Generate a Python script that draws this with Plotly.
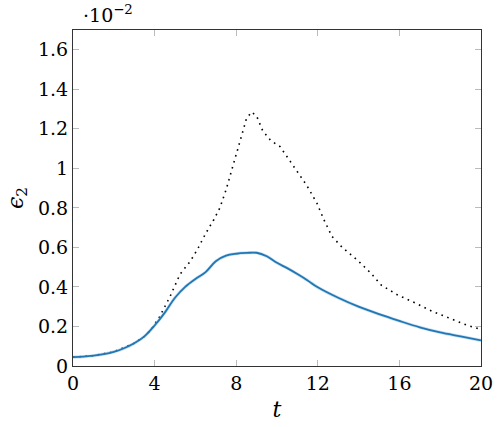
import plotly.graph_objects as go

# values in units of 1e-2
t_blue = [0, 0.5, 1, 1.5, 2, 2.5, 3, 3.5, 4, 4.5, 5, 5.5, 6, 6.5, 7, 7.5, 8, 8.5, 9, 9.5, 10, 10.5, 11, 11.5, 12, 13, 14, 15, 16, 17, 18, 19, 20]
e_blue = [0.045, 0.047, 0.052, 0.060, 0.072, 0.090, 0.115, 0.150, 0.205, 0.270, 0.345, 0.400, 0.440, 0.475, 0.530, 0.558, 0.568, 0.572, 0.573, 0.555, 0.522, 0.495, 0.465, 0.433, 0.398, 0.345, 0.300, 0.262, 0.228, 0.196, 0.170, 0.150, 0.130]

t_dot = [0, 1, 2, 3, 3.5, 3.8, 4.25, 4.75, 5.25, 5.75, 6.1, 6.5, 6.9, 7.2, 7.5, 7.9, 8.2, 8.5, 8.75, 9.0, 9.3, 9.7, 10.15, 10.55, 11.0, 11.45, 11.95, 12.3, 12.7, 13.2, 14.0, 14.6, 15.1, 15.9, 16.8, 17.6, 18.5, 19.3, 20]
e_dot = [0.045, 0.052, 0.072, 0.115, 0.150, 0.180, 0.250, 0.350, 0.465, 0.530, 0.590, 0.670, 0.740, 0.800, 0.890, 1.030, 1.140, 1.250, 1.285, 1.265, 1.190, 1.140, 1.110, 1.050, 0.985, 0.915, 0.825, 0.740, 0.655, 0.600, 0.530, 0.470, 0.410, 0.360, 0.318, 0.277, 0.240, 0.207, 0.185]

x_ticks = [0, 4, 8, 12, 16, 20]
y_ticks = [0, 0.2, 0.4, 0.6, 0.8, 1.0, 1.2, 1.4, 1.6]
y_tick_labels = ["0", "0.2", "0.4", "0.6", "0.8", "1", "1.2", "1.4", "1.6"]

FONT = "DejaVu Serif, serif"

fig = go.Figure()
fig.add_trace(go.Scatter(x=t_dot, y=e_dot, mode="lines",
                         line=dict(color="black", width=1.6, dash="1.6px,4.6px"),
                         showlegend=False))
fig.add_trace(go.Scatter(x=t_blue, y=e_blue, mode="lines",
                         line=dict(color="rgba(140,185,225,0.45)", width=3.2, shape="spline"),
                         showlegend=False))
fig.add_trace(go.Scatter(x=t_blue, y=e_blue, mode="lines",
                         line=dict(color="#1f77b4", width=1.8, shape="spline"),
                         showlegend=False))

axis_common = dict(showgrid=False, zeroline=False, showline=True, linecolor="#333333",
                   linewidth=1.2, mirror="allticks", ticks="inside", ticklen=6,
                   tickcolor="#bbbbbb", tickwidth=1, automargin=False,
                   tickfont=dict(family=FONT, size=19, color="black"))

fig.update_xaxes(range=[0, 20], tickvals=x_ticks, **axis_common,
                 title=dict(text="<i>t</i>", font=dict(family=FONT, size=22, color="black"), standoff=8))
fig.update_yaxes(range=[0, 1.7], tickvals=y_ticks, ticktext=y_tick_labels, **axis_common,
                 title=dict(text="<i>ϵ</i><sub>2</sub>", font=dict(family=FONT, size=22, color="black"), standoff=8))

fig.add_annotation(text="·10<sup>−2</sup>", xref="paper", yref="paper", x=0.0, y=1.0,
                   xanchor="left", yanchor="bottom", showarrow=False, yshift=2, xshift=8,
                   font=dict(family=FONT, size=19, color="black"))

fig.update_layout(width=498, height=427, margin=dict(l=73, r=17, t=30, b=61, autoexpand=False),
                  plot_bgcolor="white", paper_bgcolor="white",
                  font=dict(family=FONT, color="black"))

fig.write_html("out.html")
